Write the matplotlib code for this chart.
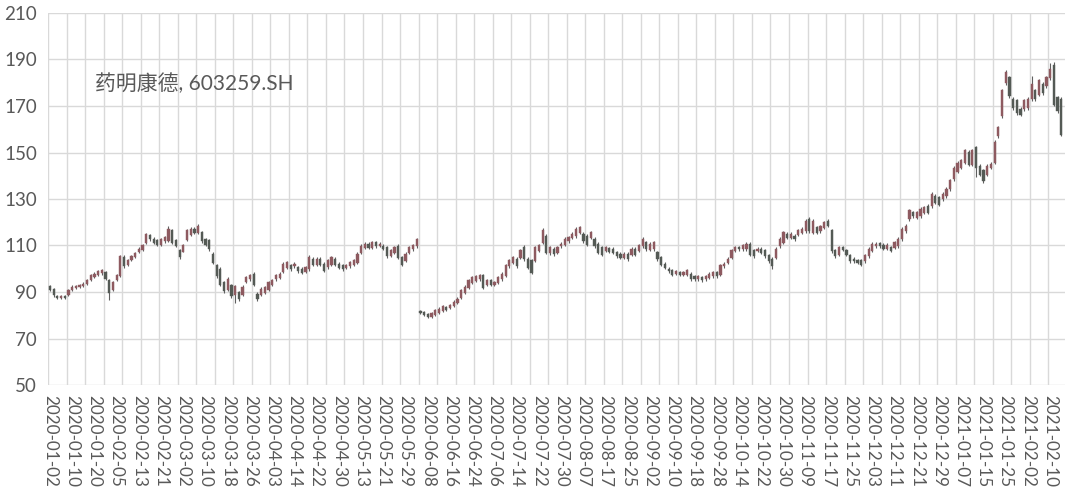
import matplotlib
matplotlib.use("Agg")
import matplotlib.pyplot as plt
import numpy as np

# daily OHLC for 603259.SH, 2020-01-02 .. 2021-02-19
opens = [92.6, 91.4, 88.2, 87.3, 88.1, 88.6, 90.9, 91.6, 92.2, 92.5,
         93.5, 95.3, 96.5, 97.4, 98.0, 98.6, 95.0, 91.0, 95.3, 96.8,
         105.0, 101.8, 103.9, 105.0, 107.0, 108.2, 111.0, 114.4, 112.8, 112.2,
         110.4, 111.8, 111.8, 116.5, 112.2, 108.0, 107.4, 112.5, 114.7, 117.2,
         115.4, 115.8, 112.8, 112.2, 106.4, 101.4, 100.0, 94.2, 91.0, 92.8,
         88.5, 89.9, 88.8, 94.5, 95.4, 97.8, 89.2, 88.8, 89.6, 91.0,
         93.2, 95.4, 96.1, 98.8, 100.4, 101.4, 101.0, 100.8, 100.0, 98.8,
         99.7, 104.4, 101.8, 104.3, 102.1, 100.6, 101.8, 104.3, 102.1, 101.4,
         100.3, 101.0, 101.8, 102.4, 106.7, 109.0, 110.8, 109.0, 111.4, 109.7,
         109.9, 109.3, 105.4, 106.8, 110.0, 105.0, 103.2, 106.8, 108.3, 109.6,
         81.9, 81.4, 80.6, 79.4, 80.3, 81.0, 81.7, 83.6, 83.1, 83.8,
         85.2, 87.4, 89.6, 91.8, 93.9, 94.7, 95.4, 97.1, 93.2, 95.0,
         93.1, 93.9, 95.4, 96.8, 101.0, 102.5, 104.3, 104.7, 109.3, 104.3,
         103.6, 103.2, 107.5, 111.0, 114.3, 106.8, 108.6, 106.8, 109.6, 110.4,
         111.8, 113.3, 114.0, 115.4, 115.0, 114.3, 113.3, 112.9, 110.7, 109.3,
         107.5, 108.8, 108.6, 107.1, 106.4, 104.7, 106.4, 106.1, 108.6, 107.5,
         109.7, 111.4, 108.2, 108.3, 107.1, 105.0, 102.1, 100.0, 99.3, 97.7,
         98.5, 97.5, 97.5, 97.8, 96.8, 95.4, 96.4, 95.4, 96.1, 96.8,
         98.5, 97.5, 101.0, 102.5, 104.7, 107.5, 109.3, 108.3, 108.3, 110.7,
         107.9, 107.5, 108.6, 107.9, 105.7, 104.3, 104.7, 109.7, 111.1, 115.0,
         113.3, 114.3, 114.7, 115.4, 116.1, 121.5, 115.4, 117.9, 116.1, 117.6,
         120.7, 116.5, 107.9, 106.1, 109.3, 107.9, 105.7, 104.3, 103.6, 103.6,
         103.2, 105.4, 107.5, 109.7, 110.9, 110.3, 108.7, 109.3, 109.0, 109.7,
         112.6, 116.1, 121.2, 124.4, 121.9, 122.6, 124.0, 127.2, 126.9, 131.5,
         130.8, 129.8, 131.2, 134.1, 138.4, 141.7, 143.4, 145.5, 150.2, 144.8,
         152.3, 144.4, 142.3, 140.5, 143.4, 145.5, 157.0, 165.6, 180.0, 182.4,
         173.1, 172.4, 168.8, 168.5, 169.2, 172.8, 176.7, 174.9, 179.6, 178.5,
         182.1, 187.5, 173.8, 173.1]

highs = [93.2, 91.8, 88.9, 88.7, 88.6, 91.4, 92.8, 93.0, 93.5, 94.1,
         95.6, 97.8, 98.6, 99.6, 99.9, 99.2, 95.5, 94.8, 97.8, 106.0,
         105.8, 104.3, 106.0, 107.4, 109.3, 110.7, 115.5, 115.0, 113.5, 112.9,
         113.4, 114.2, 118.6, 117.3, 112.9, 108.6, 110.6, 117.1, 117.8, 117.9,
         119.4, 116.3, 113.4, 112.8, 107.0, 102.0, 100.6, 94.8, 96.3, 93.4,
         93.2, 90.5, 92.8, 97.0, 97.7, 98.4, 89.8, 92.0, 92.7, 94.9,
         95.6, 97.7, 98.5, 102.8, 103.5, 102.0, 102.8, 101.3, 100.6, 101.3,
         105.7, 105.0, 104.9, 104.9, 102.7, 104.4, 105.6, 104.9, 102.7, 102.0,
         102.0, 103.4, 104.2, 107.0, 110.7, 111.5, 111.4, 112.0, 112.0, 111.5,
         110.5, 109.9, 108.6, 109.9, 110.6, 105.6, 107.0, 109.9, 110.6, 113.4,
         82.3, 81.9, 81.1, 81.4, 82.6, 83.4, 84.4, 84.1, 84.8, 86.6,
         87.7, 91.3, 92.8, 95.6, 97.0, 97.4, 97.8, 97.7, 95.6, 95.6,
         94.9, 97.0, 98.4, 102.0, 104.2, 105.6, 104.9, 108.6, 110.0, 104.9,
         104.2, 109.9, 110.7, 117.6, 114.9, 109.9, 109.2, 109.9, 111.4, 113.5,
         114.2, 115.7, 117.9, 118.6, 115.7, 114.9, 116.4, 113.5, 111.3, 109.9,
         109.9, 109.4, 109.2, 107.7, 107.0, 107.0, 107.0, 109.2, 109.2, 110.6,
         113.6, 112.0, 111.3, 112.0, 107.7, 105.6, 102.7, 100.6, 99.9, 99.6,
         99.1, 99.0, 99.9, 98.4, 97.3, 97.4, 97.0, 97.4, 98.4, 99.1,
         99.1, 102.0, 102.8, 104.9, 108.6, 109.9, 109.9, 110.6, 111.3, 111.4,
         108.5, 109.2, 109.2, 108.5, 106.3, 104.9, 109.2, 113.5, 116.3, 115.7,
         115.7, 114.9, 117.1, 117.8, 121.3, 122.1, 121.3, 118.5, 118.9, 120.6,
         121.3, 117.1, 108.5, 109.9, 109.9, 108.5, 106.3, 104.9, 104.2, 104.2,
         106.3, 109.2, 111.3, 111.4, 111.5, 110.9, 110.9, 109.9, 112.0, 113.5,
         117.8, 119.2, 125.7, 125.0, 125.0, 126.4, 127.1, 127.8, 132.9, 132.1,
         131.4, 132.8, 135.0, 138.6, 144.0, 146.2, 147.3, 151.6, 150.9, 151.6,
         152.9, 145.0, 142.9, 145.0, 145.7, 155.2, 161.6, 177.4, 185.3, 183.0,
         173.8, 173.0, 169.5, 173.0, 173.8, 183.0, 177.4, 181.7, 180.3, 183.0,
         188.4, 188.8, 174.5, 173.8]

lows = [90.4, 88.0, 86.8, 86.9, 86.9, 88.3, 90.5, 91.1, 91.8, 92.0,
        93.1, 94.9, 96.0, 97.0, 97.4, 95.0, 86.6, 90.4, 94.8, 96.3,
        100.5, 101.2, 103.4, 104.6, 106.6, 107.8, 110.6, 112.0, 110.6, 109.8,
        109.9, 111.2, 111.3, 110.5, 109.2, 104.4, 107.0, 112.0, 114.2, 114.8,
        114.9, 111.2, 109.8, 107.8, 102.0, 96.2, 92.5, 89.5, 90.5, 87.6,
        85.1, 86.2, 88.3, 94.0, 94.9, 92.7, 86.2, 88.3, 89.1, 90.5,
        92.7, 94.9, 95.6, 98.3, 99.9, 99.1, 100.5, 98.3, 97.6, 98.3,
        99.2, 101.2, 101.3, 101.3, 98.4, 100.1, 101.3, 101.3, 99.8, 99.1,
        99.9, 100.5, 101.3, 102.0, 106.3, 108.4, 108.4, 108.5, 109.1, 109.2,
        108.2, 104.8, 104.9, 106.2, 104.1, 101.2, 102.7, 106.3, 107.8, 109.1,
        80.4, 79.8, 78.7, 79.0, 79.8, 80.5, 81.2, 82.0, 82.7, 83.4,
        84.8, 87.0, 89.1, 91.3, 93.3, 94.2, 94.9, 91.2, 92.6, 92.6,
        92.6, 93.3, 94.9, 96.3, 100.5, 102.0, 100.3, 104.2, 103.5, 99.8,
        97.6, 102.7, 107.0, 110.5, 106.2, 106.1, 105.6, 106.2, 109.1, 109.9,
        111.2, 112.8, 113.4, 114.9, 111.2, 109.8, 112.8, 109.1, 106.2, 105.5,
        107.0, 106.7, 106.2, 104.8, 104.1, 104.1, 103.4, 105.5, 105.5, 107.0,
        109.1, 107.7, 107.7, 107.8, 103.4, 101.2, 99.8, 98.3, 97.0, 97.2,
        97.0, 97.0, 97.0, 94.9, 94.8, 94.8, 94.5, 94.8, 95.5, 96.2,
        96.2, 97.0, 100.5, 102.0, 104.2, 107.0, 107.8, 107.8, 107.8, 105.5,
        104.8, 107.0, 106.2, 104.8, 102.6, 99.8, 104.2, 109.1, 110.5, 112.8,
        112.8, 112.0, 114.1, 114.8, 115.5, 115.5, 114.8, 114.8, 115.5, 117.0,
        117.8, 106.9, 104.8, 105.5, 107.6, 105.5, 102.6, 102.6, 101.9, 101.0,
        102.6, 104.8, 107.0, 109.1, 109.1, 108.1, 108.1, 107.0, 108.4, 109.1,
        112.0, 115.5, 120.6, 122.0, 121.3, 122.0, 123.4, 123.4, 126.3, 127.7,
        127.0, 129.2, 130.6, 133.5, 137.6, 141.1, 142.8, 144.9, 144.2, 144.2,
        139.6, 139.8, 136.9, 139.8, 142.8, 145.0, 156.2, 165.0, 179.2, 173.4,
        168.4, 166.3, 165.5, 167.7, 168.4, 172.0, 172.0, 174.1, 174.9, 177.7,
        181.3, 170.0, 167.0, 157.0]

closes = [91.0, 88.6, 87.3, 88.1, 87.5, 91.0, 92.2, 92.5, 93.0, 93.6,
          95.1, 97.2, 97.9, 99.0, 99.3, 95.4, 89.6, 94.3, 97.2, 105.3,
          101.2, 103.6, 105.4, 106.8, 108.7, 110.1, 114.9, 112.6, 111.1, 110.4,
          112.8, 113.6, 117.2, 111.1, 109.7, 105.1, 110.0, 116.5, 117.2, 115.4,
          118.6, 111.8, 110.4, 108.3, 102.5, 96.8, 93.2, 90.3, 95.7, 88.2,
          92.6, 86.8, 92.1, 96.5, 97.1, 93.2, 86.8, 91.4, 92.1, 94.3,
          95.0, 97.1, 97.9, 102.1, 102.8, 99.7, 102.2, 98.9, 98.2, 100.7,
          105.0, 101.8, 104.3, 101.8, 99.0, 103.8, 105.0, 101.8, 100.4, 99.7,
          101.5, 102.9, 103.6, 106.4, 110.0, 110.8, 109.0, 111.4, 109.7, 110.8,
          108.7, 105.4, 107.9, 109.3, 104.7, 101.8, 106.4, 109.3, 110.0, 112.8,
          80.9, 80.2, 79.2, 80.9, 82.1, 82.8, 83.8, 82.4, 84.3, 85.6,
          87.1, 90.7, 92.1, 95.0, 96.4, 96.8, 97.1, 91.8, 95.0, 93.2,
          94.4, 96.4, 97.8, 101.4, 103.6, 105.0, 101.1, 107.9, 104.0, 100.4,
          98.2, 109.3, 110.0, 116.5, 106.8, 109.3, 106.2, 109.3, 110.8, 112.9,
          113.6, 115.0, 117.2, 117.9, 111.8, 110.4, 115.7, 109.7, 106.8, 106.1,
          109.3, 107.2, 106.8, 105.4, 104.7, 106.4, 104.0, 108.6, 106.1, 110.0,
          112.9, 108.3, 110.7, 111.4, 104.0, 101.8, 100.4, 98.9, 97.5, 99.0,
          97.5, 98.5, 99.3, 95.4, 95.4, 96.8, 95.1, 96.8, 97.8, 98.5,
          96.8, 101.4, 102.2, 104.3, 107.9, 109.3, 108.3, 110.0, 110.7, 106.1,
          105.4, 108.6, 106.8, 105.4, 103.2, 101.1, 108.6, 112.9, 115.7, 113.3,
          115.0, 112.6, 116.5, 117.2, 120.7, 116.1, 120.7, 115.4, 118.3, 120.0,
          118.3, 107.5, 105.4, 109.3, 108.2, 106.1, 103.2, 103.2, 102.5, 101.8,
          105.7, 108.6, 110.7, 110.8, 109.7, 108.7, 110.3, 107.6, 111.4, 112.9,
          117.2, 118.6, 125.1, 122.6, 124.4, 125.8, 126.5, 124.0, 132.2, 128.3,
          127.6, 132.2, 134.4, 138.0, 143.3, 145.5, 146.6, 150.9, 144.8, 150.9,
          143.4, 140.5, 137.7, 144.4, 145.1, 154.5, 160.9, 176.7, 184.6, 174.2,
          169.2, 167.1, 166.3, 172.4, 173.1, 179.6, 172.8, 181.0, 175.7, 182.4,
          186.0, 170.6, 167.8, 157.7]

# every 6th trading day is labelled
tick_labels = ["2020-01-02", "2020-01-10", "2020-01-20", "2020-02-05", "2020-02-13",
               "2020-02-21", "2020-03-02", "2020-03-10", "2020-03-18", "2020-03-26",
               "2020-04-03", "2020-04-14", "2020-04-22", "2020-04-30", "2020-05-13",
               "2020-05-21", "2020-05-29", "2020-06-08", "2020-06-16", "2020-06-24",
               "2020-07-06", "2020-07-14", "2020-07-22", "2020-07-30", "2020-08-07",
               "2020-08-17", "2020-08-25", "2020-09-02", "2020-09-10", "2020-09-18",
               "2020-09-28", "2020-10-14", "2020-10-22", "2020-10-30", "2020-11-09",
               "2020-11-17", "2020-11-25", "2020-12-03", "2020-12-11", "2020-12-21",
               "2020-12-29", "2021-01-07", "2021-01-15", "2021-01-25", "2021-02-02",
               "2021-02-10"]

title = "药明康德, 603259.SH"

o = np.array(opens)
h = np.array(highs)
l = np.array(lows)
c = np.array(closes)
x = np.arange(len(o))

up_col = "#8e5a60"
down_col = "#545a55"
wick_col = "#5f5f5f"
grid_col = "#d9d9d9"
text_col = "#595959"

plt.rcParams["font.family"] = ["Lato", "Noto Sans CJK SC", "DejaVu Sans"]

fig = plt.figure(figsize=(10.8, 4.87), dpi=100)
ax = fig.add_axes([48.1 / 1080, 1 - 385 / 487, (1065 - 48.1) / 1080, (385 - 13) / 487])

up = c >= o
colors = np.where(up, up_col, down_col)
bottoms = np.minimum(o, c)
heights = np.maximum(np.abs(c - o), 0.25)

ax.vlines(x, l, h, color=wick_col, linewidth=0.8, zorder=2)
ax.bar(x, heights, bottom=bottoms, width=0.6, color=colors, edgecolor=colors,
       linewidth=0.3, zorder=3)

ax.set_xlim(-0.5, 274.0)
ax.set_ylim(50, 210)
ax.set_yticks(np.arange(50, 211, 20))

# gridlines: horizontal every 20, vertical every 5 categories (between bars)
for v in np.arange(50, 211, 20):
    ax.axhline(v, color=grid_col, linewidth=1.0, zorder=0)
for g in np.arange(-0.5, 274, 5):
    ax.axvline(g, color=grid_col, linewidth=1.0, zorder=0)

ax.set_xticks(np.arange(0, len(tick_labels) * 6, 6))
ax.set_xticklabels(tick_labels, rotation=-90, ha="center", va="top")
ax.tick_params(axis="x", length=0, pad=7, labelsize=12.3, colors=text_col)
ax.tick_params(axis="y", length=0, pad=8, labelsize=13.5, colors=text_col)

for s in ax.spines.values():
    s.set_visible(False)

fig.text(95 / 1080, 1 - 84 / 487, title, fontsize=15, color=text_col,
         ha="left", va="center")

fig.savefig("out.png", dpi=100, facecolor="white")
